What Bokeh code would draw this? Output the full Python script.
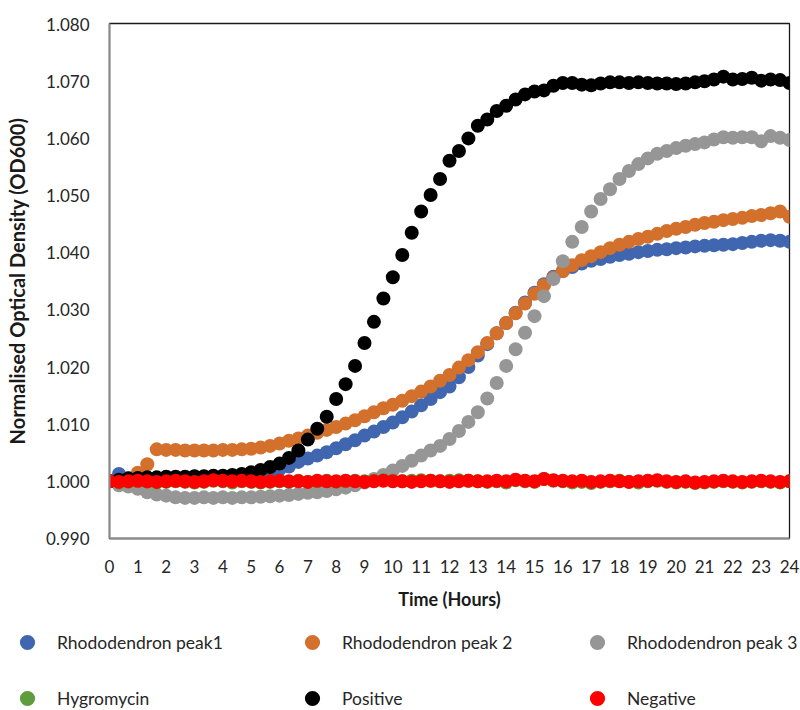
from bokeh.plotting import figure
from bokeh.layouts import column
from bokeh.models import Legend, LegendItem, Range1d, FixedTicker, NumeralTickFormatter
from bokeh.embed import file_html
from bokeh.resources import INLINE

# Readings every 20 minutes over 24 hours
hours = [round(i / 3, 4) for i in range(73)]

peak1 = [
    1.0000, 1.0013, 1.0006, 1.0005, 1.0006, 1.0006, 1.0007, 1.0007, 1.0007, 1.0008,
    1.0008, 1.0009, 1.0009, 1.0010, 1.0011, 1.0013, 1.0015, 1.0018, 1.0021, 1.0026,
    1.0034, 1.0040, 1.0045, 1.0051, 1.0058, 1.0065, 1.0072, 1.0080, 1.0087, 1.0095,
    1.0103, 1.0112, 1.0122, 1.0133, 1.0144, 1.0156, 1.0166, 1.0182, 1.0200, 1.0220,
    1.0240, 1.0259, 1.0277, 1.0295, 1.0313, 1.0330, 1.0345, 1.0358, 1.0368, 1.0375,
    1.0381, 1.0386, 1.0389, 1.0393, 1.0396, 1.0398, 1.0401, 1.0403, 1.0405, 1.0406,
    1.0408, 1.0409, 1.0411, 1.0412, 1.0413, 1.0414, 1.0415, 1.0417, 1.0419, 1.0421,
    1.0422, 1.0421, 1.0419,
]

peak2 = [
    1.0000, 1.0000, 1.0001, 1.0015, 1.0030, 1.0056, 1.0055, 1.0055, 1.0054, 1.0054,
    1.0054, 1.0054, 1.0055, 1.0055, 1.0056, 1.0057, 1.0059, 1.0062, 1.0066, 1.0071,
    1.0075, 1.0080, 1.0085, 1.0090, 1.0095, 1.0101, 1.0107, 1.0114, 1.0121, 1.0128,
    1.0134, 1.0141, 1.0149, 1.0157, 1.0166, 1.0176, 1.0186, 1.0199, 1.0212, 1.0226,
    1.0242, 1.0259, 1.0277, 1.0294, 1.0311, 1.0328, 1.0343, 1.0356, 1.0368, 1.0378,
    1.0387, 1.0394, 1.0401, 1.0408, 1.0414, 1.0419, 1.0424, 1.0428, 1.0433, 1.0438,
    1.0442, 1.0445, 1.0449, 1.0452, 1.0454, 1.0457, 1.0459, 1.0461, 1.0464, 1.0466,
    1.0469, 1.0472, 1.0463,
]

peak3 = [
    1.0000, 0.9993, 0.9991, 0.9987, 0.9981, 0.9977, 0.9975, 0.9972, 0.9971, 0.9971,
    0.9972, 0.9971, 0.9972, 0.9971, 0.9972, 0.9972, 0.9973, 0.9974, 0.9975, 0.9976,
    0.9978, 0.9980, 0.9981, 0.9983, 0.9986, 0.9989, 0.9993, 0.9998, 1.0004, 1.0011,
    1.0019, 1.0027, 1.0036, 1.0045, 1.0054, 1.0062, 1.0074, 1.0088, 1.0104, 1.0121,
    1.0145, 1.0172, 1.0202, 1.0231, 1.0260, 1.0289, 1.0324, 1.0354, 1.0385, 1.0419,
    1.0445, 1.0472, 1.0494, 1.0511, 1.0529, 1.0543, 1.0555, 1.0565, 1.0573, 1.0578,
    1.0583, 1.0587, 1.0590, 1.0593, 1.0598, 1.0602, 1.0601, 1.0602, 1.0602, 1.0595,
    1.0604, 1.0601, 1.0597,
]

hygromycin = [
    1.0000, 0.9998, 0.9999, 1.0000, 0.9999, 0.9998, 0.9999, 1.0000, 0.9999, 0.9998,
    0.9999, 1.0001, 1.0000, 0.9998, 1.0000, 0.9999, 0.9998, 0.9999, 1.0000, 0.9999,
    1.0001, 0.9999, 1.0000, 1.0001, 0.9999, 1.0000, 1.0001, 1.0000, 1.0001, 1.0002,
    1.0001, 1.0000, 1.0001, 1.0002, 1.0001, 1.0000, 1.0001, 1.0002, 1.0001, 1.0000,
    0.9999, 1.0000, 0.9998, 1.0002, 1.0000, 0.9999, 1.0004, 1.0001, 1.0000, 0.9998,
    0.9999, 0.9997, 0.9999, 1.0000, 1.0001, 0.9999, 0.9998, 1.0000, 1.0001, 0.9999,
    0.9998, 0.9999, 0.9997, 0.9998, 0.9999, 1.0000, 0.9999, 0.9998, 0.9999, 1.0000,
    0.9999, 0.9998, 1.0000,
]

positive = [
    1.0000, 1.0003, 1.0005, 1.0006, 1.0007, 1.0007, 1.0008, 1.0008, 1.0008, 1.0009,
    1.0009, 1.0010, 1.0010, 1.0011, 1.0013, 1.0016, 1.0020, 1.0025, 1.0031, 1.0041,
    1.0054, 1.0073, 1.0092, 1.0113, 1.0144, 1.0170, 1.0202, 1.0242, 1.0279, 1.0320,
    1.0357, 1.0396, 1.0435, 1.0472, 1.0501, 1.0529, 1.0561, 1.0578, 1.0600, 1.0622,
    1.0633, 1.0648, 1.0657, 1.0668, 1.0677, 1.0682, 1.0684, 1.0692, 1.0697, 1.0697,
    1.0694, 1.0693, 1.0696, 1.0698, 1.0698, 1.0697, 1.0698, 1.0697, 1.0696, 1.0696,
    1.0695, 1.0696, 1.0698, 1.0700, 1.0703, 1.0708, 1.0703, 1.0704, 1.0706, 1.0701,
    1.0703, 1.0702, 1.0697,
]

negative = [
    1.0000, 0.9999, 1.0000, 1.0001, 1.0000, 0.9999, 1.0000, 1.0001, 1.0000, 0.9999,
    1.0000, 1.0002, 1.0001, 1.0000, 1.0001, 1.0000, 0.9999, 1.0000, 1.0001, 1.0000,
    1.0000, 0.9999, 1.0001, 1.0000, 1.0000, 1.0001, 1.0000, 0.9999, 1.0000, 1.0001,
    1.0000, 1.0000, 0.9999, 1.0000, 1.0001, 1.0000, 0.9999, 1.0000, 1.0001, 1.0000,
    1.0000, 1.0001, 1.0000, 1.0003, 1.0001, 1.0000, 1.0004, 1.0002, 1.0001, 1.0000,
    1.0001, 0.9999, 1.0000, 1.0001, 1.0000, 0.9999, 1.0000, 1.0001, 1.0002, 1.0000,
    0.9999, 1.0000, 0.9998, 0.9999, 1.0000, 1.0001, 1.0000, 0.9999, 1.0000, 1.0001,
    1.0000, 0.9999, 1.0000,
]

series_names = ["Rhododendron peak1", "Rhododendron peak 2", "Rhododendron peak 3",
                "Hygromycin", "Positive", "Negative"]
series_values = [peak1, peak2, peak3, hygromycin, positive, negative]
series_colors = ["#4066B0", "#D2702C", "#969696", "#5E9C3C", "#000000", "#FF0000"]

x_ticks = list(range(0, 25))
y_ticks = [0.99, 1.0, 1.01, 1.02, 1.03, 1.04, 1.05, 1.06, 1.07, 1.08]

FONT = "Lato"
TEXT = "#262626"

# ---- main chart -------------------------------------------------------------
p = figure(width=800, height=620, output_backend="svg", toolbar_location=None,
           x_range=Range1d(0, 24), y_range=Range1d(0.99, 1.0801),
           min_border_left=109, min_border_right=11, min_border_top=23,
           min_border_bottom=82, background_fill_color="white",
           border_fill_color="white")

p.xgrid.visible = False
p.ygrid.visible = False
p.outline_line_color = "#1a1a1a"
p.outline_line_width = 1.3

for ax in (p.xaxis, p.yaxis):
    ax.axis_line_color = "#8c8c8c"
    ax.axis_line_width = 2
    ax.major_tick_line_color = None
    ax.minor_tick_line_color = None
    ax.major_label_text_font = FONT
    ax.major_label_text_font_size = "17px"
    ax.major_label_text_color = TEXT
    ax.axis_label_text_font = FONT
    ax.axis_label_text_font_style = "bold"
    ax.axis_label_text_color = "#1a1a1a"

p.xaxis.axis_label_text_font_size = "18px"
p.yaxis.axis_label_text_font_size = "20px"
p.xaxis.ticker = FixedTicker(ticks=x_ticks)
p.yaxis.ticker = FixedTicker(ticks=y_ticks)
p.yaxis.formatter = NumeralTickFormatter(format="0.000")
p.xaxis.major_label_standoff = 15
p.yaxis.major_label_standoff = 14
p.xaxis.axis_label = "Time (Hours)"
p.yaxis.axis_label = "Normalised Optical Density (OD600)"
p.xaxis.axis_label_standoff = 12
p.yaxis.axis_label_standoff = 14

for vals, color in zip(series_values, series_colors):
    p.scatter(hours, vals, size=14, marker="circle",
              fill_color=color, line_color=None)

# ---- legend strip below the chart --------------------------------------------
lg = figure(width=800, height=90, output_backend="svg", toolbar_location=None,
            x_range=Range1d(0, 1), y_range=Range1d(0, 1),
            min_border=0, min_border_left=0, min_border_right=0,
            min_border_top=0, min_border_bottom=0,
            x_axis_location=None, y_axis_location=None,
            background_fill_color="white", border_fill_color="white")
lg.xgrid.visible = False
lg.ygrid.visible = False
lg.outline_line_color = None

# the strip has its own full-width frame rather than one lined up with the chart's
for fig in (p, lg):
    if "frame_align" in fig.properties():
        fig.frame_align = False

# legend keys: one point each, parked outside the strip's visible range
keys = [lg.scatter([-5], [-5], size=14, marker="circle", fill_color=c, line_color=None)
        for c in series_colors]


def legend_row(idx, loc, label_height):
    return Legend(
        items=[LegendItem(label=series_names[i], renderers=[keys[i]]) for i in idx],
        orientation="horizontal", location=loc,
        glyph_width=38, glyph_height=38, label_standoff=11, label_width=224,
        label_height=label_height,
        spacing=12, padding=0, margin=0,
        border_line_color=None, background_fill_alpha=0,
        label_text_font=FONT, label_text_font_size="17.5px", label_text_color=TEXT,
    )


lg.add_layout(legend_row([0, 1, 2], (8, 49), 20))
# second row: labels sit a little lower than their keys
lg.add_layout(legend_row([3, 4, 5], (8, -16), 56))

layout = column(p, lg, spacing=0)
open("out.html", "w").write(file_html(layout, INLINE))
